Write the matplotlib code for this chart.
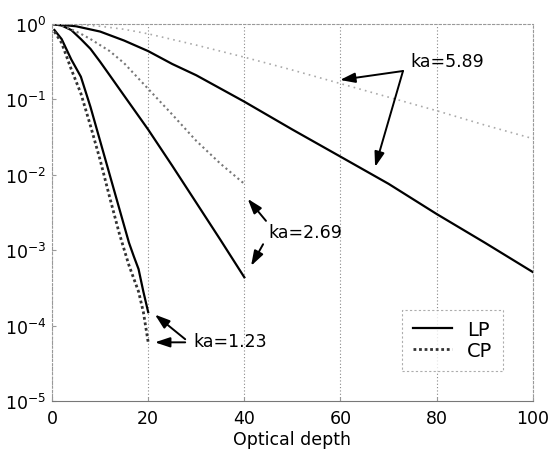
import matplotlib
matplotlib.use("Agg")
import matplotlib.pyplot as plt

plt.rcParams['font.family'] = ['DejaVu Sans']
plt.rcParams['mathtext.default'] = 'regular'

# Transmitted intensity versus optical depth (LP = linear, CP = circular polarisation)
x_lp_589 = [0, 5, 10, 15, 20, 25, 30, 40, 50, 60, 70, 80, 90, 100]
y_lp_589 = [1.0, 0.933, 0.794, 0.603, 0.437, 0.295, 0.209, 0.0933, 0.0398,
            0.0174, 0.00759, 0.00302, 0.00126, 0.000513]

x_cp_589 = [0, 5, 10, 15, 20, 30, 40, 50, 60, 70, 80, 90, 100]
y_cp_589 = [1.0, 0.989, 0.933, 0.851, 0.741, 0.525, 0.363, 0.245, 0.162,
            0.107, 0.0708, 0.0457, 0.0302]

x_lp_269 = [0, 2, 4, 6, 8, 10, 12, 15, 20, 25, 30, 35, 40]
y_lp_269 = [1.0, 0.955, 0.832, 0.631, 0.468, 0.316, 0.209, 0.112, 0.0398,
            0.0132, 0.00427, 0.00138, 0.000437]

x_cp_269 = [0, 2, 4, 6, 8, 10, 12, 15, 20, 25, 30, 35, 40]
y_cp_269 = [1.0, 0.955, 0.851, 0.741, 0.631, 0.525, 0.437, 0.302, 0.138,
            0.0631, 0.0282, 0.0141, 0.00759]

x_lp_123 = [0.5, 2, 4, 6, 8, 10, 12, 14, 16, 17, 18, 19, 20]
y_lp_123 = [0.832, 0.631, 0.339, 0.200, 0.0794, 0.0282, 0.0100, 0.00355,
            0.00126, 0.000832, 0.000562, 0.000282, 0.000151]

x_cp_123 = [0.5, 2, 4, 6, 8, 10, 12, 14, 16, 18, 19, 20]
y_cp_123 = [0.794, 0.562, 0.251, 0.120, 0.0447, 0.0158, 0.00501, 0.00166,
            0.000631, 0.000282, 0.000151, 0.0000603]

x_ticks = [0, 20, 40, 60, 80, 100]
y_ticks = [1e0, 1e-1, 1e-2, 1e-3, 1e-4, 1e-5]
y_tick_labels = ['$10^{0}$', '$10^{-1}$', '$10^{-2}$', '$10^{-3}$', '$10^{-4}$', '$10^{-5}$']

fig = plt.figure(figsize=(5.51, 4.52), dpi=100)
ax = fig.add_axes([0.0944, 0.1106, 0.8726, 0.8341])

ax.set_yscale('log')
ax.set_xlim(0, 100)
ax.set_ylim(1e-5, 1)

ax.plot(x_lp_123, y_lp_123, color='black', lw=1.6, label='LP')
ax.plot(x_cp_123, y_cp_123, color='#333333', lw=2.0, ls=(0, (1, 1)), label='CP')
ax.plot(x_lp_269, y_lp_269, color='black', lw=1.6)
ax.plot(x_cp_269, y_cp_269, color='#777777', lw=1.5, ls=(0, (1, 1.5)))
ax.plot(x_lp_589, y_lp_589, color='black', lw=1.6)
ax.plot(x_cp_589, y_cp_589, color='#aaaaaa', lw=1.2, ls=(0, (1, 2.5)))

ax.set_xticks(x_ticks)
ax.set_yticks(y_ticks)
ax.set_yticklabels(y_tick_labels)
ax.yaxis.set_minor_locator(matplotlib.ticker.NullLocator())
ax.tick_params(axis='both', direction='in', length=3, color='#999999',
               labelsize=12.5)
ax.tick_params(axis='x', pad=6)
ax.tick_params(axis='y', pad=4)
ax.set_xlabel('Optical depth', fontsize=12.5, labelpad=2)

ax.grid(True, axis='x', color='#888888', lw=0.8, ls=(0, (1, 2)))
for side in ['left', 'right', 'top']:
    ax.spines[side].set_color('#999999')
    ax.spines[side].set_linestyle((0, (2, 2)))
    ax.spines[side].set_linewidth(0.8)
ax.spines['bottom'].set_color('#777777')
ax.spines['bottom'].set_linewidth(0.8)

arrow = dict(arrowstyle='-|>,head_length=0.9,head_width=0.3', color='black',
             lw=1.4, mutation_scale=10, shrinkA=0, shrinkB=0)

# ka = 5.89
ax.text(74.6, 0.32, 'ka=5.89', fontsize=12.5, va='center', ha='left')
ax.annotate('', xy=(59.9, 0.181), xytext=(73.0, 0.238), arrowprops=arrow)
ax.annotate('', xy=(67.2, 0.0127), xytext=(73.0, 0.238), arrowprops=arrow)

# ka = 2.69
ax.text(44.9, 1.74e-3, 'ka=2.69', fontsize=12.5, va='center', ha='left')
ax.annotate('', xy=(40.7, 4.8e-3), xytext=(44.5, 2.45e-3), arrowprops=arrow)
ax.annotate('', xy=(41.4, 6.2e-4), xytext=(43.9, 1.2e-3), arrowprops=arrow)

# ka = 1.23
ax.text(29.3, 6.3e-5, 'ka=1.23', fontsize=12.5, va='center', ha='left')
ax.annotate('', xy=(21.4, 1.4e-4), xytext=(27.7, 6.6e-5), arrowprops=arrow)
ax.annotate('', xy=(21.4, 6.0e-5), xytext=(27.7, 6.0e-5), arrowprops=arrow)

leg = ax.legend(loc='lower right', bbox_to_anchor=(0.938, 0.08), fontsize=14,
                frameon=True, fancybox=False, handlelength=2.0, borderpad=0.55,
                labelspacing=0.1, handletextpad=0.8, borderaxespad=0)
leg.get_frame().set_edgecolor('#999999')
leg.get_frame().set_linestyle((0, (2, 2)))
leg.get_frame().set_linewidth(0.8)

fig.savefig('out.png', dpi=100)
